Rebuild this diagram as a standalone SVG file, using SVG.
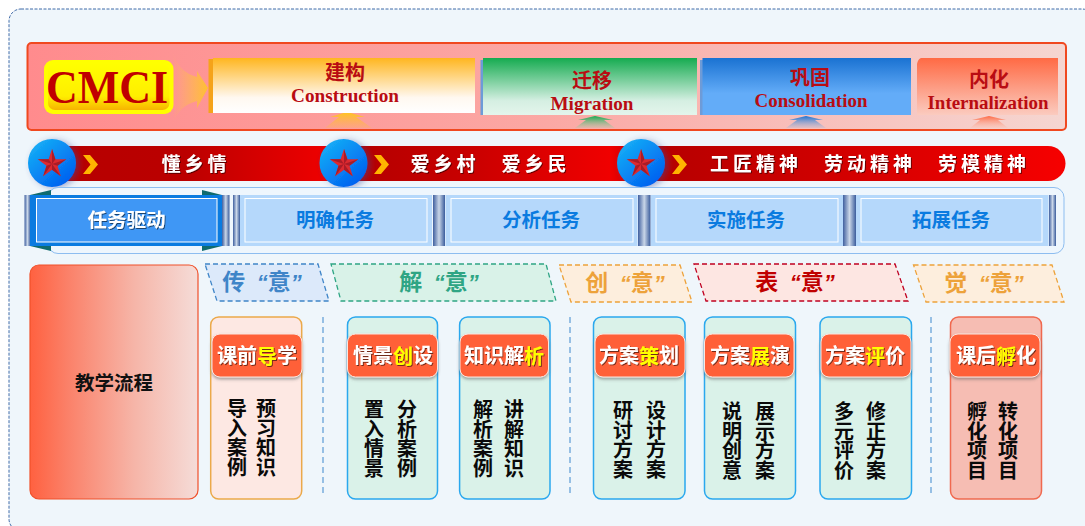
<svg xmlns="http://www.w3.org/2000/svg" width="1085" height="526" viewBox="0 0 1085 526">
<style>
text{font-family:"Noto Sans CJK SC","Liberation Sans",sans-serif;font-weight:700;text-anchor:middle;dominant-baseline:central}
.en{font-family:"Liberation Serif","Noto Sans CJK SC",serif;fill:#b90c12;font-size:18.5px;dominant-baseline:auto}
.cn{fill:#b90c12;font-size:20px}
.rib{fill:#fff;font-size:19px;letter-spacing:4px;filter:url(#ts)}
.task{fill:#0a7be0;font-size:19.5px}
.tb{fill:#b5d8fb}.ti{fill:none;stroke:#fff;stroke-width:1}
.div{fill:url(#gDiv)}
.yi{font-family:"Liberation Sans","Noto Sans CJK SC",sans-serif;font-size:23px}
.q{font-style:italic;font-size:22px}
.yb{stroke-width:1.3;stroke-dasharray:5 3}
.card{stroke-width:1.5}
.gc{fill:#daf2e9;stroke:#2aa8ee}
.badge{fill:#ff6038;stroke:#fbe6df;stroke-width:1;filter:url(#bs)}
.bt{fill:#fff;font-size:20px;filter:url(#ts)}
.bt tspan.h{fill:#ffff00}
.v{fill:#0a0a0a;font-size:20px;letter-spacing:-0.4px;font-weight:700;writing-mode:vertical-rl;text-orientation:upright;text-anchor:start;dominant-baseline:auto}
.sep{stroke:#5b9bd5;stroke-width:1.2;stroke-dasharray:6 4;fill:none}
.tc{fill:#0f6b6e}
.chev{fill:#ffb400}
</style>
<defs>
<filter id="ts" x="-20%" y="-30%" width="140%" height="160%"><feDropShadow dx="1" dy="1" stdDeviation="0.7" flood-color="#000" flood-opacity="0.55"/></filter>
<filter id="bs" x="-10%" y="-15%" width="120%" height="140%"><feDropShadow dx="0" dy="2" stdDeviation="1.6" flood-color="#555" flood-opacity="0.5"/></filter>
<filter id="glow" x="-30%" y="-30%" width="170%" height="160%"><feDropShadow dx="3" dy="1" stdDeviation="3" flood-color="#3a4a9a" flood-opacity="0.45"/></filter>
<linearGradient id="gPanel"><stop offset="0" stop-color="#ff8b8d"/><stop offset="0.5" stop-color="#fba8a4"/><stop offset="1" stop-color="#f5d6d1"/></linearGradient>
<linearGradient id="gArrow"><stop offset="0" stop-color="#ffc34d" stop-opacity="0"/><stop offset="1" stop-color="#ffc030"/></linearGradient>
<linearGradient id="gY" x2="0" y2="1"><stop offset="0" stop-color="#ffff00"/><stop offset="0.7" stop-color="#ffee00"/><stop offset="1" stop-color="#f7b400"/></linearGradient>
<linearGradient id="gO" x2="0" y2="1"><stop offset="0" stop-color="#ffb61f"/><stop offset="0.72" stop-color="#fff8f0"/><stop offset="1" stop-color="#fff"/></linearGradient>
<linearGradient id="gG" x2="0" y2="1"><stop offset="0" stop-color="#15ab50"/><stop offset="0.75" stop-color="#d5efe2"/><stop offset="1" stop-color="#e4f5ec"/></linearGradient>
<linearGradient id="gB" x2="0" y2="1"><stop offset="0" stop-color="#1a72d2"/><stop offset="0.62" stop-color="#63acf8"/><stop offset="1" stop-color="#63acf8"/></linearGradient>
<linearGradient id="gR" x2="0" y2="1"><stop offset="0" stop-color="#ff6a44"/><stop offset="1" stop-color="#fbcbbf"/></linearGradient>
<linearGradient id="uO" x2="0" y2="1"><stop offset="0" stop-color="#ffc61a"/><stop offset="1" stop-color="#ffb54a" stop-opacity="0.25"/></linearGradient>
<linearGradient id="uG" x2="0" y2="1"><stop offset="0" stop-color="#15ab50"/><stop offset="1" stop-color="#a8c8a8" stop-opacity="0.3"/></linearGradient>
<linearGradient id="uB" x2="0" y2="1"><stop offset="0" stop-color="#1a72d2"/><stop offset="1" stop-color="#a8b8d8" stop-opacity="0.3"/></linearGradient>
<linearGradient id="uR" x2="0" y2="1"><stop offset="0" stop-color="#ff6a44"/><stop offset="1" stop-color="#fbc0b0" stop-opacity="0.3"/></linearGradient>
<linearGradient id="gRib" gradientUnits="userSpaceOnUse" x1="30" x2="1066" y1="0" y2="0">
<stop offset="0" stop-color="#b50000"/><stop offset="0.15" stop-color="#bb0000"/><stop offset="0.29" stop-color="#f00000"/><stop offset="0.31" stop-color="#b30000"/><stop offset="0.42" stop-color="#c80000"/><stop offset="0.56" stop-color="#f00000"/><stop offset="0.6" stop-color="#b50000"/><stop offset="0.72" stop-color="#c80000"/><stop offset="1" stop-color="#f60000"/></linearGradient>
<linearGradient id="gCirc" x1="0.15" y1="0.1" x2="0.85" y2="0.9"><stop offset="0" stop-color="#14acf6"/><stop offset="1" stop-color="#0060f0"/></linearGradient>
<linearGradient id="gDiv"><stop offset="0" stop-color="#3f5f9f"/><stop offset="0.5" stop-color="#c9d6e8"/><stop offset="1" stop-color="#3a5c9c"/></linearGradient>
<linearGradient id="gFlow"><stop offset="0" stop-color="#ff6140"/><stop offset="0.22" stop-color="#fb8068"/><stop offset="0.62" stop-color="#f6b5a8"/><stop offset="1" stop-color="#f5dcd8"/></linearGradient>
<g id="star">
<polygon points="0,-15 3.41,-4.69 14.27,-4.64 5.52,1.79 8.82,12.14 0,5.8 -8.82,12.14 -5.52,1.79 -14.27,-4.64 -3.41,-4.69" fill="#dc2a30"/>
<path d="M0 0 0-15 3.41-4.69ZM0 0 14.27-4.64 5.52 1.79ZM0 0 8.82 12.14 0 5.8ZM0 0-8.82 12.14-5.52 1.79ZM0 0-14.27-4.64-3.41-4.69Z" fill="#a81c28"/>
</g>
</defs>
<rect width="1085" height="526" fill="#fff"/>
<rect id="frame" x="9" y="9" width="1085" height="522" rx="12" fill="#eff6fb" stroke="#3f6aa8" stroke-width="1" stroke-dasharray="3 1.5"/>

<g id="cmci-panel">
<rect x="27.5" y="43" width="1038.500" height="87" rx="4" fill="url(#gPanel)" stroke="#f0481f" stroke-width="2"/>
</g>
<g id="connectors">
<path d="M173 52Q178 72 197 77L197 71 208 88 197 108 197 101Q178 106 173 124Z" fill="url(#gArrow)"/>
<polygon points="347,112 330,117 339,117 325,128 372,128 356,117 365,117" fill="url(#uO)"/>
<polygon points="595,116 578,120 586,120 575,128 615,128 604,120 613,120" fill="url(#uG)"/>
<polygon points="806,116 789,120 797,120 786,128 826,128 815,120 823,120" fill="url(#uB)"/>
<polygon points="989,116 972,120 980,120 970,128 1008,128 998,120 1006,120" fill="url(#uR)"/>
</g>
<g id="cmci"><rect x="44" y="60" width="129.500" height="54" rx="9" fill="#ffff00"/><rect x="48" y="64" width="121.500" height="46" rx="7" fill="url(#gY)"/>
<text x="107" y="87" font-size="47" textLength="122" lengthAdjust="spacingAndGlyphs" style="font-family:'Liberation Serif',serif;fill:#c00000">CMCI</text></g>
<g id="construction"><rect x="208.500" y="59" width="5" height="54" fill="#f5a31a"/><rect x="213" y="58" width="262" height="55" fill="url(#gO)"/>
<text class="cn" x="345" y="71">建构</text><text class="en" x="345" y="102" textLength="108" lengthAdjust="spacingAndGlyphs">Construction</text></g>
<g id="migration"><rect x="480.500" y="60" width="3" height="55" fill="#6d9bd8"/><rect x="483" y="58" width="214" height="57" fill="url(#gG)"/>
<text class="cn" x="592" y="79">迁移</text><text class="en" x="592" y="110" textLength="83" lengthAdjust="spacingAndGlyphs">Migration</text></g>
<g id="consolidation"><rect x="700" y="60" width="3" height="55" fill="#6d9bd8"/><rect x="702.500" y="58" width="208.500" height="57" fill="url(#gB)"/>
<text class="cn" x="810" y="76">巩固</text><text class="en" x="811" y="107" textLength="113" lengthAdjust="spacingAndGlyphs">Consolidation</text></g>
<g id="internalization"><path d="M917 115V64Q918 59 921 58H1058V115Z" fill="url(#gR)"/>
<text class="cn" x="989" y="78">内化</text><text class="en" x="988" y="109" textLength="121" lengthAdjust="spacingAndGlyphs">Internalization</text></g>

<g id="ribbon">
<path d="M50 146H1048a17.500 17.500 0 0 1 0 35H50Z" fill="url(#gRib)"/>
<path class="chev" d="M83 155H90L98 164.500 90 174H83L90.500 164.500Z"/>
<path class="chev" d="M374 155H381L389 164.500 381 174H374L381.500 164.500Z"/>
<path class="chev" d="M672 155H679L687 164.500 679 174H672L679.500 164.500Z"/>
<text class="rib" x="196" y="162.500">懂乡情</text>
<text class="rib" x="445" y="162.500">爱乡村</text><text class="rib" x="536" y="162.500">爱乡民</text>
<text class="rib" x="756" y="162.500">工匠精神</text><text class="rib" x="870" y="162.500">劳动精神</text><text class="rib" x="984" y="162.500">劳模精神</text>
</g>
<g id="star-1"><circle cx="52" cy="163" r="24" fill="url(#gCirc)" filter="url(#glow)"/><use href="#star" x="52" y="164"/></g>
<g id="star-2"><circle cx="343.500" cy="163" r="24" fill="url(#gCirc)" filter="url(#glow)"/><use href="#star" x="344" y="164"/></g>
<g id="star-3"><circle cx="641" cy="163" r="24" fill="url(#gCirc)" filter="url(#glow)"/><use href="#star" x="641" y="164"/></g>

<g id="task-band">
<rect x="48" y="187.500" width="1016" height="66" rx="10" fill="#eef6fd" stroke="#8dbdf0" stroke-width="1"/>
<rect class="div" x="24.500" y="195" width="6" height="51"/>
<rect class="div" x="222" y="195" width="7.500" height="51"/>
<rect class="div" x="233" y="195" width="7" height="51"/>
<rect class="div" x="433" y="195" width="12" height="51"/>
<rect class="div" x="638" y="195" width="12.500" height="51"/>
<rect class="div" x="843" y="195" width="13" height="51"/>
<rect class="div" x="1049" y="195" width="7" height="51"/>
</g>
<g id="task-0"><polygon class="tc" points="51,190 51,195 30,195"/><polygon class="tc" points="202,190 202,195 222,195"/><polygon class="tc" points="30,246 51,246 51,251"/><polygon class="tc" points="222,246 202,246 202,251"/>
<rect x="30" y="195" width="192" height="51" fill="#0a7be0"/><rect x="36.500" y="198.500" width="180.500" height="43.500" fill="#3f97f5" stroke="#fff" stroke-width="1"/>
<text x="126.500" y="218.500" font-size="19.500" fill="#fff" filter="url(#ts)">任务驱动</text></g>
<g id="task-1"><rect class="tb" x="240" y="195" width="192" height="51"/><rect class="ti" x="245" y="198.500" width="182" height="43.500"/><text class="task" x="335" y="218.500">明确任务</text></g>
<g id="task-2"><rect class="tb" x="445.500" y="195" width="192" height="51"/><rect class="ti" x="451" y="198.500" width="182" height="43.500"/><text class="task" x="541" y="218.500">分析任务</text></g>
<g id="task-3"><rect class="tb" x="651" y="195" width="192" height="51"/><rect class="ti" x="656" y="198.500" width="182" height="43.500"/><text class="task" x="746" y="218.500">实施任务</text></g>
<g id="task-4"><rect class="tb" x="856" y="195" width="192.500" height="51"/><rect class="ti" x="861" y="198.500" width="181" height="43.500"/><text class="task" x="951" y="218.500">拓展任务</text></g>

<g id="flow-title"><rect x="30" y="265" width="168" height="234" rx="9" fill="url(#gFlow)" stroke="#f0502a" stroke-width="1.2"/><text x="114" y="381.500" font-size="19.500" fill="#111">教学流程</text></g>

<g id="yi-1"><polygon class="yb" points="205,264 318,264 329,301 217,301" fill="#dce9fa" stroke="#3f85c8"/><text class="yi" x="262" y="282" fill="#3f85c8" xml:space="preserve">传 <tspan class="q" dx="5">“</tspan>意<tspan class="q">”</tspan></text></g>
<g id="yi-2"><polygon class="yb" points="331,264 546,264 556,301 341,301" fill="#d9f2e8" stroke="#2fa584"/><text class="yi" x="439" y="282" fill="#2fa584" xml:space="preserve">解 <tspan class="q" dx="5">“</tspan>意<tspan class="q">”</tspan></text></g>
<g id="yi-3"><polygon class="yb" points="559,265 680,265 692,302 571,302" fill="#fdeedd" stroke="#eda23a"/><text class="yi" x="625" y="283" fill="#eda23a" xml:space="preserve">创 <tspan class="q" dx="5">“</tspan>意<tspan class="q">”</tspan></text></g>
<g id="yi-4"><polygon class="yb" points="694,264 895,264 908,301 706,301" fill="#fde6e2" stroke="#c00020"/><text class="yi" x="795" y="282" fill="#c00000" xml:space="preserve">表 <tspan class="q" dx="5">“</tspan>意<tspan class="q">”</tspan></text></g>
<g id="yi-5"><polygon class="yb" points="913.500,265 1052,265 1064,302 926,302" fill="#fdeedd" stroke="#eda23a"/><text class="yi" x="984" y="283" fill="#eda23a" xml:space="preserve">觉 <tspan class="q" dx="5">“</tspan>意<tspan class="q">”</tspan></text></g>

<g id="separators">
<path class="sep" d="M323 317V497"/><path class="sep" d="M570 317V497"/><path class="sep" d="M931 317V497"/>
</g>

<g id="card-1"><rect class="card" x="210.700" y="317" width="91" height="182" rx="8" fill="#fde8e3" stroke="#eba94a"/>
<rect class="badge" x="212" y="334" width="90" height="43" rx="8"/><text class="bt" x="257" y="354.500">课前<tspan class="h">导</tspan>学</text>
<text class="v" x="237" y="398.500">导入案例</text><text class="v" x="266" y="398.500">预习知识</text></g>
<g id="card-2"><rect class="card gc" x="347.500" y="317" width="90" height="182" rx="8"/>
<rect class="badge" x="347.500" y="334" width="90" height="43" rx="8"/><text class="bt" x="393" y="354.500">情景<tspan class="h">创</tspan>设</text>
<text class="v" x="374" y="399.500">置入情景</text><text class="v" x="407" y="399.500">分析案例</text></g>
<g id="card-3"><rect class="card gc" x="459.600" y="317" width="90.400" height="182" rx="8"/>
<rect class="badge" x="460" y="334" width="88.500" height="43" rx="8"/><text class="bt" x="504" y="354.500">知识解<tspan class="h">析</tspan></text>
<text class="v" x="483" y="399.500">解析案例</text><text class="v" x="514" y="399.500">讲解知识</text></g>
<g id="card-4"><rect class="card gc" x="593.500" y="317" width="91.500" height="182" rx="8"/>
<rect class="badge" x="595" y="334" width="90" height="43" rx="8"/><text class="bt" x="639" y="354.500">方案<tspan class="h">策</tspan>划</text>
<text class="v" x="623" y="400.500">研讨方案</text><text class="v" x="656" y="400.500">设计方案</text></g>
<g id="card-5"><rect class="card gc" x="704.500" y="317" width="91" height="182" rx="8"/>
<rect class="badge" x="704.500" y="334" width="89.500" height="43" rx="8"/><text class="bt" x="750" y="354.500">方案<tspan class="h">展</tspan>演</text>
<text class="v" x="732" y="401.500">说明创意</text><text class="v" x="765" y="401.500">展示方案</text></g>
<g id="card-6"><rect class="card gc" x="820" y="317" width="91.500" height="182" rx="8"/>
<rect class="badge" x="821" y="334" width="90" height="43" rx="8"/><text class="bt" x="865" y="354.500">方案<tspan class="h">评</tspan>价</text>
<text class="v" x="844" y="401.500">多元评价</text><text class="v" x="876" y="401.500">修正方案</text></g>
<g id="card-7"><rect class="card" x="950.500" y="317" width="91" height="182" rx="8" fill="#f6bdb3" stroke="#f0694f"/>
<rect class="badge" x="950" y="334" width="90" height="43" rx="8"/><text class="bt" x="996" y="354.500">课后<tspan class="h">孵</tspan>化</text>
<text class="v" x="977" y="401.500">孵化项目</text><text class="v" x="1008" y="401.500">转化项目</text></g>
</svg>
